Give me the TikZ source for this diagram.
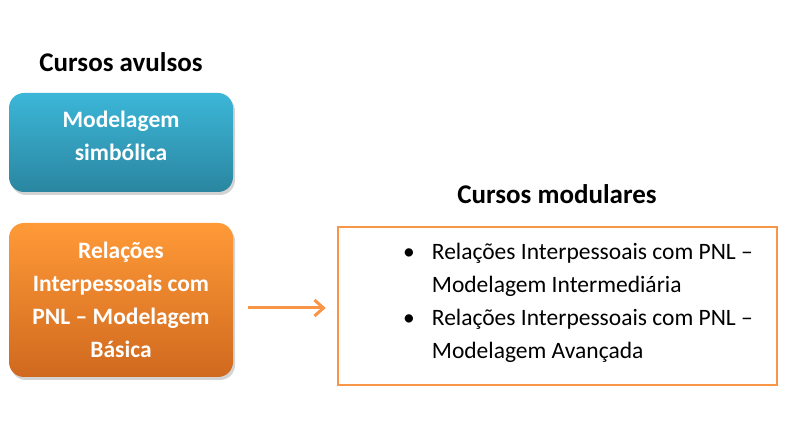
\documentclass[tikz,border=0pt]{standalone}
\usepackage{fontspec}
\setmainfont{Carlito}
\usetikzlibrary{arrows.meta,shadows}
\definecolor{bluetop}{HTML}{3CB6D8}
\definecolor{bluebot}{HTML}{2A86A0}
\definecolor{orgtop}{HTML}{FF9A38}
\definecolor{orgbot}{HTML}{D0691E}
\definecolor{orgline}{HTML}{F79646}
\tikzset{
  course/.style={rounded corners=15pt, minimum width=224pt, align=center,
    text=white, font=\fontsize{23.5}{33}\selectfont\bfseries,
    drop shadow={opacity=0.35, shadow xshift=2pt, shadow yshift=-3pt}},
  coursetext/.style={align=center, text=white, font=\fontsize{23.5}{33}\selectfont\bfseries},
  heading/.style={font=\fontsize{27}{30}\selectfont\bfseries, text=black},
  listbox/.style={draw=orgline, line width=2.5pt, minimum width=439pt, minimum height=158pt},
  conn/.style={draw=orgline, line width=3pt, -{Straight Barb[length=9pt,width=16pt,line width=3pt]}}
}
\begin{document}
\begin{tikzpicture}[x=1pt,y=-1pt]
\useasboundingbox (0,0) rectangle (809,435);
\node[heading] (t1) at (121,62) {Cursos avulsos};
\node[course, top color=bluetop, bottom color=bluebot, minimum height=99pt] (blue) at (121,142.5) {};
\node[coursetext] (bluetext) at (121,136) {Modelagem\\simbólica};
\node[course, top color=orgtop, bottom color=orgbot, minimum height=154pt] (orange) at (121,300) {Relações\\Interpessoais com\\PNL – Modelagem\\Básica};
\node[heading] (t2) at (557,194) {Cursos modulares};
\node[listbox] (right) at (557.5,306) {};
\node[anchor=west, inner sep=0pt, font=\fontsize{23.5}{33}\selectfont] (items) at (403,302)
 {\begin{tabular}{@{}l@{\hspace{17pt}}l@{}}
  • & Relações Interpessoais com PNL –\\
    & Modelagem Intermediária\\
  • & Relações Interpessoais com PNL –\\
    & Modelagem Avançada
  \end{tabular}};
\draw[conn] ([xshift=15pt,yshift=-8pt]orange.east) -- ([xshift=-11pt,yshift=-8pt]right.west |- orange.east);
\end{tikzpicture}
\end{document}
